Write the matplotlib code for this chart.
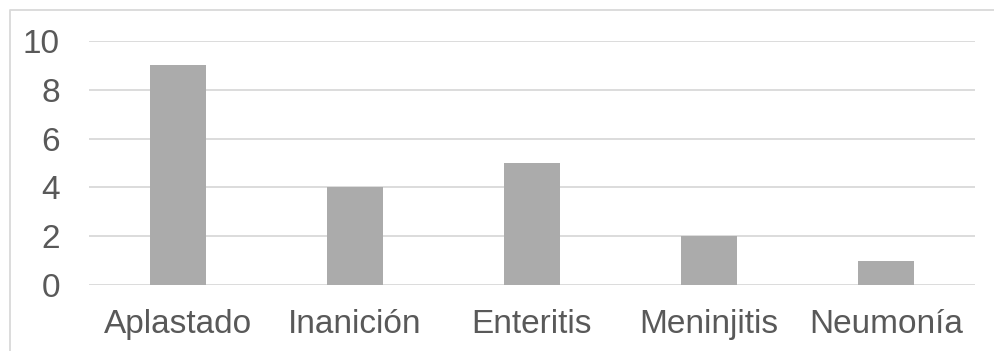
import matplotlib
matplotlib.use("Agg")
import matplotlib.pyplot as plt
from matplotlib.lines import Line2D

categorias = ["Aplastado", "Inanición", "Enteritis", "Meninjitis", "Neumonía"]
valores = [9, 4, 5, 2, 1]
yticks = [0, 2, 4, 6, 8, 10]

plt.rcParams['font.family'] = ['Liberation Sans', 'DejaVu Sans']

W, H = 994, 351
fig = plt.figure(figsize=(W / 100, H / 100), dpi=100)
ax = fig.add_axes([89 / W, (H - 285) / H, (975 - 89) / W, (285 - 41) / H])

x = list(range(len(categorias)))
ax.bar(x, valores, width=0.316, color="#ABABAB", zorder=3)
ax.set_xlim(-0.5, len(categorias) - 0.5)
ax.set_ylim(0, 10)
ax.set_yticks(yticks)
ax.set_xticks(x)
ax.set_xticklabels(categorias)

for s in ax.spines.values():
    s.set_visible(False)
ax.grid(axis="y", color="#D9D9D9", linewidth=1.3, zorder=0)
ax.tick_params(axis="y", length=0, pad=21, labelsize=24, labelcolor="#595959")
ax.tick_params(axis="x", length=0, pad=17, labelsize=24, labelcolor="#595959")

# marco del grafico
fig.add_artist(Line2D([9.5 / W, 9.5 / W, 1], [0, 1 - 9.5 / H, 1 - 9.5 / H],
                      transform=fig.transFigure, color="#D9D9D9", linewidth=1.3))

fig.savefig("out.png", dpi=100)
